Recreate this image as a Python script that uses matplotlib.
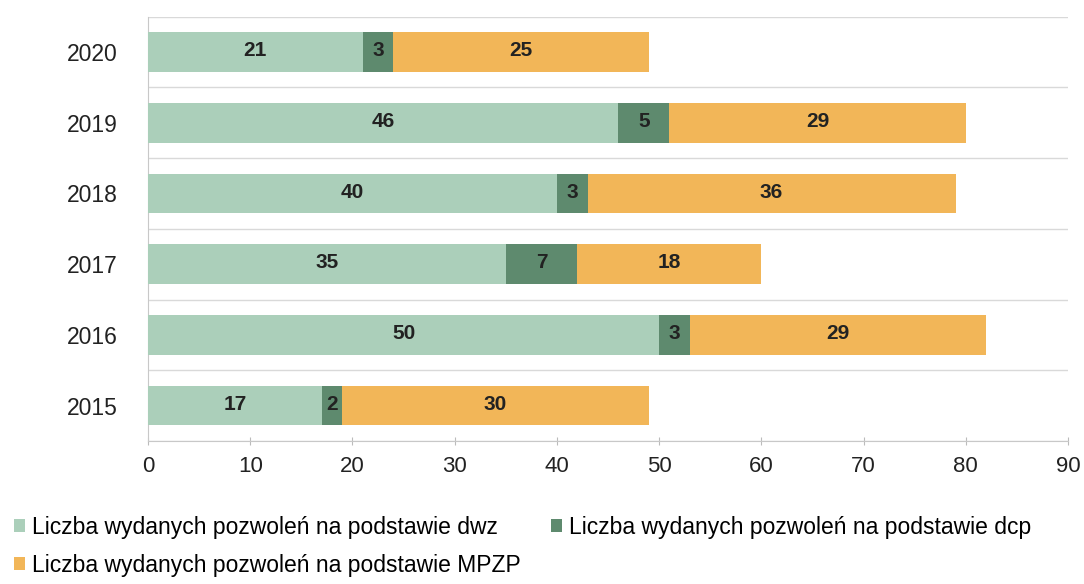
import matplotlib
matplotlib.use("Agg")
import matplotlib.pyplot as plt
from matplotlib.patches import Patch
import numpy as np

years = ["2015", "2016", "2017", "2018", "2019", "2020"]
dwz = [17, 50, 35, 40, 46, 21]
dcp = [2, 3, 7, 3, 5, 3]
mpzp = [30, 29, 18, 36, 29, 25]
series_labels = [
    "Liczba wydanych pozwoleń na podstawie dwz",
    "Liczba wydanych pozwoleń na podstawie dcp",
    "Liczba wydanych pozwoleń na podstawie MPZP",
]
colors = ["#abcfba", "#5e8a6e", "#f2b658"]
xticks = [0, 10, 20, 30, 40, 50, 60, 70, 80, 90]

plt.rcParams["font.family"] = ["Liberation Sans", "DejaVu Sans"]

fig = plt.figure(figsize=(10.84, 5.84), dpi=100)
ax = fig.add_axes([148/1084, 1-441/584, (1068-148)/1084, (441-16.6)/584])

y = np.arange(len(years))
h = 0.56
lefts = np.zeros(len(years))
for vals, col in zip([dwz, dcp, mpzp], colors):
    vals = np.array(vals)
    ax.barh(y, vals, left=lefts, height=h, color=col, edgecolor="none", zorder=3)
    for yi, l, v in zip(y, lefts, vals):
        ax.text(l + v/2, yi + 0.02, str(v), ha="center", va="center",
                fontsize=15, fontweight="bold", color="#222222", zorder=4)
    lefts = lefts + vals

ax.set_xlim(0, 90)
ax.set_ylim(-0.5, len(years)-0.5)
ax.set_yticks(y)
ax.set_yticklabels(years, fontsize=16.5)
ax.tick_params(axis="y", length=0, pad=22, colors="#222222")
ax.set_xticks(xticks)
ax.set_xticklabels([str(t) for t in xticks], fontsize=16)
ax.tick_params(axis="x", direction="inout", length=6, color="#bbbbbb", pad=8, labelcolor="#222222")
ax.set_yticks(np.arange(-0.5, len(years), 1.0), minor=True)
ax.tick_params(axis="y", which="minor", length=0)
ax.grid(axis="y", which="minor", color="#d9d9d9", linewidth=1, zorder=0)
ax.grid(axis="y", which="major", visible=False)
for s in ["top", "right"]:
    ax.spines[s].set_visible(False)
ax.spines["left"].set_color("#c8c8c8")
ax.spines["bottom"].set_color("#c8c8c8")

handles = [Patch(facecolor=c, edgecolor="none") for c in colors]
order = [0, 2, 1]
fig.legend([handles[i] for i in order], [series_labels[i] for i in order],
           loc="upper left", bbox_to_anchor=(0.0, 0.14), ncol=2, frameon=False,
           fontsize=16.5, handlelength=0.5, handleheight=0.5, handletextpad=0.3,
           columnspacing=1.3, labelspacing=0.65, borderaxespad=0.2)

fig.savefig("out.png", dpi=100, facecolor="white")
